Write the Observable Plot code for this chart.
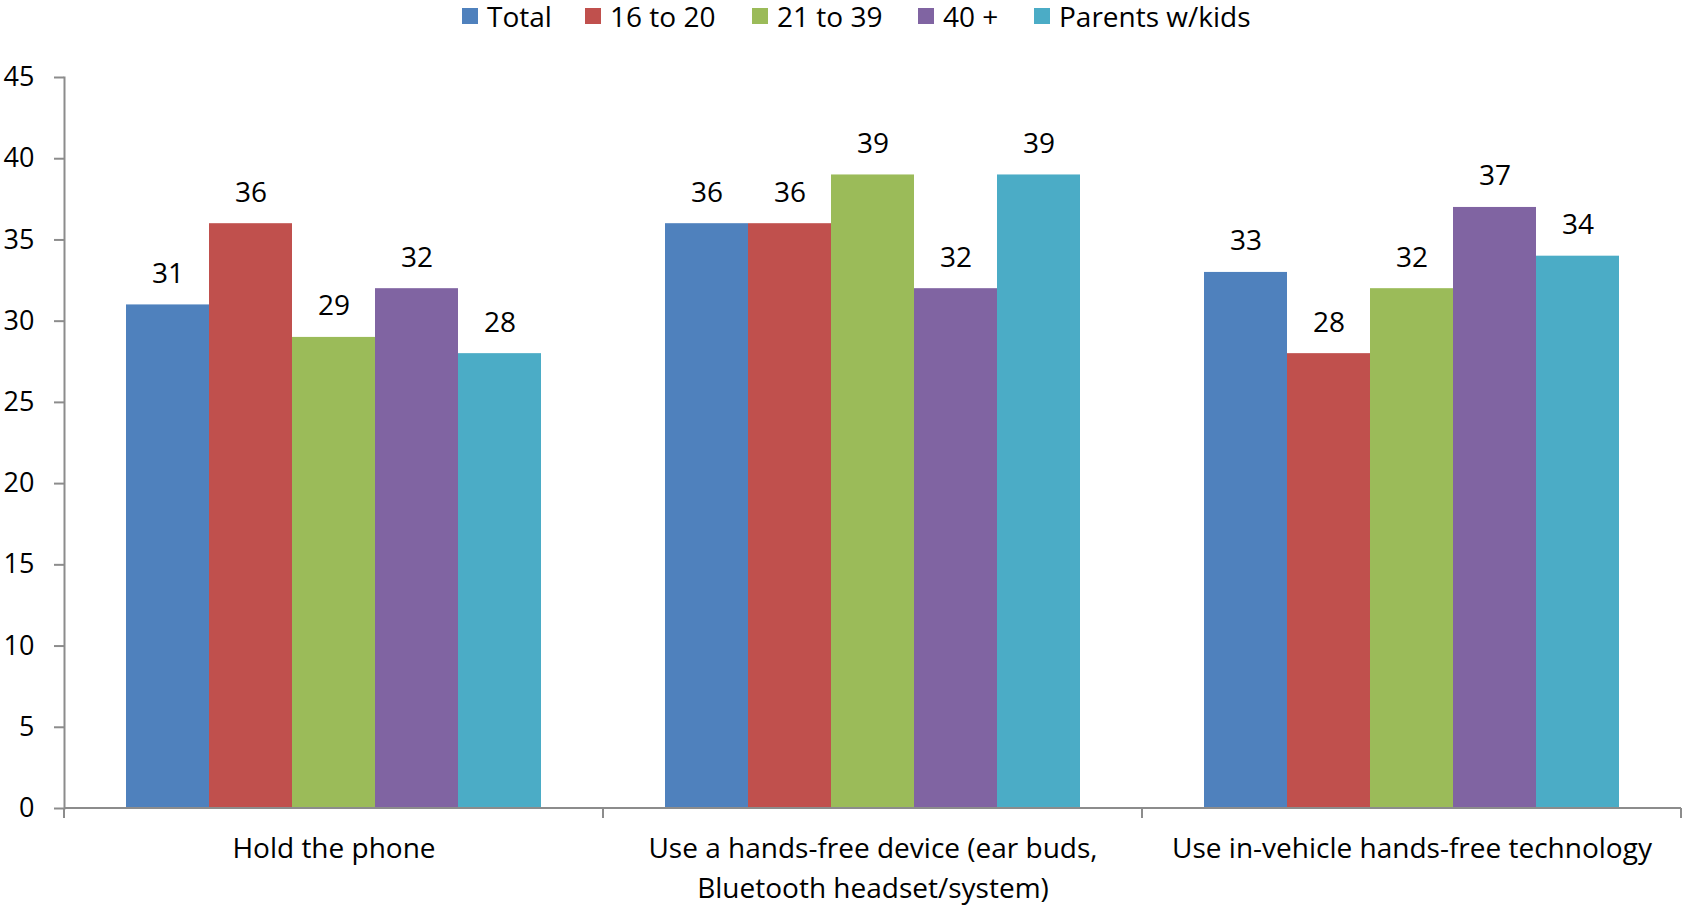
<!DOCTYPE html>
<html><head><meta charset="utf-8">
<script src="https://cdn.jsdelivr.net/npm/d3@7"></script>
<script src="https://cdn.jsdelivr.net/npm/@observablehq/plot@0.6"></script>
<style>
body{margin:0;background:#fff;font-family:"Open Sans",Lato,"Noto Sans",sans-serif;}
#legend{position:relative;height:36px;font-size:28px;color:#000;}
#legend .item{position:absolute;top:0;height:32px;display:flex;align-items:center;white-space:nowrap;}
#legend .sw{width:16px;height:16px;margin-right:9px;}
</style></head><body>
<div id="legend"></div>
<div id="chart"></div>
<script>
const categories = ["Hold the phone", "Use a hands-free device (ear buds, Bluetooth headset/system)", "Use in-vehicle hands-free technology"];
const categoryLabels = ["Hold the phone", "Use a hands-free device (ear buds,\nBluetooth headset/system)", "Use in-vehicle hands-free technology"];
const seriesNames = ["Total", "16 to 20", "21 to 39", "40 +", "Parents w/kids"];
const total = [31, 36, 33];
const age16to20 = [36, 36, 28];
const age21to39 = [29, 39, 32];
const age40plus = [32, 32, 37];
const parentsWithKids = [28, 39, 34];
const yTicks = [0, 5, 10, 15, 20, 25, 30, 35, 40, 45];
const colors = ["#4F81BD", "#C0504D", "#9BBB59", "#8064A2", "#4BACC6"];

const seriesValues = [total, age16to20, age21to39, age40plus, parentsWithKids];
const data = categories.flatMap((c, i) => seriesNames.map((s, j) => ({category: c, series: s, value: seriesValues[j][i]})));
const labelOf = new Map(categories.map((c, i) => [c, categoryLabels[i]]));

// legend (HTML, above the SVG)
const legendLeft = [462, 585, 752, 918, 1034];
const legend = document.getElementById("legend");
seriesNames.forEach((s, i) => {
  const it = document.createElement("div"); it.className = "item"; it.style.left = legendLeft[i] + "px";
  const sw = document.createElement("div"); sw.className = "sw"; sw.style.background = colors[i];
  const tx = document.createElement("span"); tx.textContent = s;
  it.append(sw, tx); legend.append(it);
});

const axisColor = "#8c8c8c";
// x-axis baseline and category-boundary ticks, drawn per facet from the scales
function categoryTicks(index, scales) {
  const {x, y} = scales;
  const [left, right] = x.range();
  const g = d3.create("svg:g").attr("stroke", axisColor).attr("stroke-width", 2);
  g.append("line").attr("x1", left).attr("x2", right).attr("y1", y(0)).attr("y2", y(0));
  for (const e of [left, right]) g.append("line").attr("x1", e).attr("x2", e).attr("y1", y(0)).attr("y2", y(0) + 10);
  return g.node();
}

const chart = Plot.plot({
  width: 1684,
  height: 869,
  marginLeft: 64,
  marginRight: 3,
  marginTop: 41,
  marginBottom: 97,
  style: {fontFamily: "'Open Sans', Lato, 'Noto Sans', sans-serif", fontSize: "28px", color: "#000", background: "#fff"},
  fx: {domain: categories, padding: 0, label: null},
  x: {domain: seriesNames, paddingInner: 0, paddingOuter: 0.74, axis: null},
  y: {domain: [0, 45], label: null},
  color: {domain: seriesNames, range: colors},
  marks: [
    Plot.barY(data, {fx: "category", x: "series", y: "value", fill: "series"}),
    Plot.text(data, {fx: "category", x: "series", y: "value", text: d => String(d.value), dy: -31, fontSize: 28, fill: "#000"}),
    Plot.frame({anchor: "left", facetAnchor: "left", stroke: axisColor, strokeWidth: 2}),
    Plot.axisY({ticks: yTicks, tickSize: 10, tickPadding: 20, stroke: axisColor, strokeWidth: 2, fontSize: 27, fill: "#000", label: null}),
    Plot.axisFx({anchor: "bottom", tickSize: 0, tickPadding: 21, fontSize: 28, fill: "#000", lineHeight: 1.43, lineAnchor: "top", tickFormat: c => labelOf.get(c), label: null}),
    categoryTicks
  ]
});
document.getElementById("chart").append(chart);
</script>
</body></html>
